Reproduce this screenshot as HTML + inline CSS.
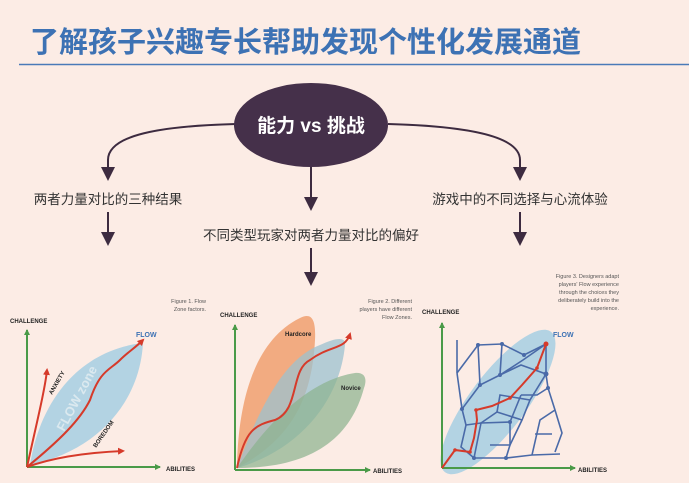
<!DOCTYPE html>
<html><head><meta charset="utf-8"><style>
body{margin:0;width:689px;height:483px;background:#fcece5;overflow:hidden;font-family:"Liberation Sans","Noto Sans CJK SC",sans-serif;}
svg{position:absolute;left:0;top:0}
</style></head><body>
<svg width="689" height="483" viewBox="0 0 689 483" xmlns="http://www.w3.org/2000/svg">
<defs>
<marker id="g" markerWidth="6" markerHeight="6" refX="5" refY="3" orient="auto" markerUnits="userSpaceOnUse"><path d="M0,0L6,3L0,6z" fill="#4a9a48"/></marker>
<marker id="r" markerWidth="7" markerHeight="7" refX="5" refY="3.5" orient="auto" markerUnits="userSpaceOnUse"><path d="M0,0L7,3.5L0,7z" fill="#d63a2a"/></marker>
</defs>
<text x="30" y="52" font-size="29" font-weight="bold" fill="#3d72b4" font-family="Noto Sans CJK SC,sans-serif">了解孩子兴趣专长帮助发现个性化发展通道</text>
<line x1="19" y1="64.5" x2="689" y2="64.5" stroke="#4a7ab8" stroke-width="1.5"/>
<g stroke="#3d2b40" stroke-width="2" fill="none">
<path d="M236,124 C160,126 108,135 108,160 L108,170"/>
<path d="M388,124 C462,126 520,135 520,160 L520,170"/>
<line x1="311" y1="166" x2="311" y2="200"/>
<line x1="108" y1="212" x2="108" y2="235"/>
<line x1="520" y1="212" x2="520" y2="235"/>
<line x1="311" y1="248" x2="311" y2="275"/>
</g>
<g fill="#3d2b40">
<path d="M101,167h14l-7,14z"/><path d="M513,167h14l-7,14z"/><path d="M304,197h14l-7,14z"/>
<path d="M101,232h14l-7,14z"/><path d="M513,232h14l-7,14z"/><path d="M304,272h14l-7,14z"/>
</g>
<ellipse cx="311" cy="125" rx="77" ry="42" fill="#45304a"/>
<text x="311" y="132" font-size="19" fill="#fff" text-anchor="middle" font-weight="bold">能力 vs 挑战</text>
<g font-size="13.5" fill="#333" text-anchor="middle">
<text x="108" y="204">两者力量对比的三种结果</text>
<text x="520" y="204">游戏中的不同选择与心流体验</text>
<text x="311" y="240">不同类型玩家对两者力量对比的偏好</text>
</g>
<!-- chart 1 -->
<g>
<path d="M30,465 C40,400 80,350 143,343 C140,400 100,450 30,465z" fill="#b3d3e3"/>
<text x="64" y="432" font-size="13" font-weight="bold" fill="#dbe9ef" transform="rotate(-62 64 432)">FLOW zone</text>
<line x1="27" y1="467" x2="27" y2="330" stroke="#4a9a48" stroke-width="2" marker-end="url(#g)"/>
<line x1="27" y1="467" x2="160" y2="467" stroke="#4a9a48" stroke-width="2" marker-end="url(#g)"/>
<g stroke="#d63a2a" stroke-width="2" fill="none" marker-end="url(#r)">
<path d="M27,467 C35,430 45,390 47,370"/>
<path d="M27,467 C60,440 80,420 90,400 C100,370 110,370 120,360 C128,352 135,348 143,340"/>
<path d="M27,467 C60,455 100,452 123,451"/>
</g>
<g font-size="6" font-weight="bold" fill="#222">
<text x="10" y="323">CHALLENGE</text><text x="166" y="471">ABILITIES</text>
<text x="52" y="395" transform="rotate(-60 52 395)">ANXIETY</text>
<text x="96" y="448" transform="rotate(-55 96 448)">BOREDOM</text>
</g>
<text x="136" y="337" font-size="7" font-weight="bold" fill="#3d72b4">FLOW</text>
<text x="206" y="303" font-size="5.5" fill="#555" text-anchor="end">Figure 1. Flow</text>
<text x="206" y="311" font-size="5.5" fill="#555" text-anchor="end">Zone factors.</text>
</g>
<!-- chart 2 -->
<g>
<path d="M237,468 C238,400 255,340 300,318 C312,312 316,320 315,340 C312,400 290,440 237,468z" fill="#f0a070" opacity="0.85"/>
<path d="M237,468 C255,420 280,360 320,345 C335,338 346,336 345,345 C340,400 300,450 237,468z" fill="#9cc2cf" opacity="0.75"/>
<path d="M237,468 C270,420 310,380 355,373 C366,372 367,380 364,388 C350,440 310,468 237,468z" fill="#8ab28d" opacity="0.7"/>
<line x1="235" y1="470" x2="235" y2="325" stroke="#4a9a48" stroke-width="2" marker-end="url(#g)"/>
<line x1="235" y1="470" x2="370" y2="470" stroke="#4a9a48" stroke-width="2" marker-end="url(#g)"/>
<path d="M237,468 C245,430 255,425 275,420 C300,410 290,370 310,360 C330,345 345,350 350,334" stroke="#d63a2a" stroke-width="2" fill="none" marker-end="url(#r)"/>
<g font-size="6" font-weight="bold" fill="#222">
<text x="220" y="317">CHALLENGE</text><text x="373" y="473">ABILITIES</text>
<text x="285" y="336">Hardcore</text><text x="341" y="390">Novice</text>
</g>
<text x="412" y="303" font-size="5.5" fill="#555" text-anchor="end">Figure 2. Different</text>
<text x="412" y="311" font-size="5.5" fill="#555" text-anchor="end">players have different</text>
<text x="412" y="319" font-size="5.5" fill="#555" text-anchor="end">Flow Zones.</text>
</g>
<!-- chart 3 -->
<g>
<ellipse cx="498" cy="402" rx="88" ry="28" transform="rotate(-53 498 402)" fill="#b3d3e3"/>
<line x1="442" y1="468" x2="442" y2="323" stroke="#4a9a48" stroke-width="2" marker-end="url(#g)"/>
<line x1="442" y1="468" x2="575" y2="468" stroke="#4a9a48" stroke-width="2" marker-end="url(#g)"/>
<g stroke="#4a6aa8" stroke-width="1.6" fill="none">
<path d="M457,373 L457,340"/>
<path d="M457,373 L478,345 L502,344 L524,355 L546,344"/>
<path d="M478,345 L480,385 L462,409 L466,425 L461,447 L474,458 L506,458 L532,455 L560,454"/>
<path d="M502,344 L500,375 L523,360 L546,344"/>
<path d="M457,373 L462,409"/>
<path d="M480,385 L500,375"/>
<path d="M466,425 L481,423 L510,422 L510,445 L506,458"/>
<path d="M500,375 L521,365 L546,374 L548,388 L555,410 L562,433 L555,452"/>
<path d="M546,344 L546,374 L530,400 L522,420 L510,445"/>
<path d="M521,395 L537,395 L548,388"/>
<path d="M510,422 L521,395"/>
<path d="M481,423 L497,412 L522,420"/>
<path d="M497,412 L500,395 L530,400"/>
<path d="M474,458 L481,423"/>
<path d="M490,445 L510,445"/>
<path d="M532,455 L540,420 L555,410"/>
<path d="M535,434 L552,434"/>
</g>
<g fill="#4a6aa8"><circle cx="478" cy="345" r="2"/><circle cx="502" cy="344" r="2"/><circle cx="524" cy="355" r="2"/><circle cx="480" cy="385" r="2"/><circle cx="500" cy="375" r="2"/><circle cx="462" cy="409" r="2"/><circle cx="510" cy="422" r="2"/><circle cx="546" cy="374" r="2.5"/><circle cx="548" cy="388" r="2"/><circle cx="474" cy="458" r="2"/><circle cx="506" cy="458" r="2"/></g>
<path d="M442,468 L455,450 L470,452 L474,438 L477,420 L476,410 L492,406 L510,398 L522,385 L537,368 L546,344" stroke="#d63a2a" stroke-width="2" fill="none"/>
<g fill="#d63a2a"><circle cx="546" cy="344" r="2.5"/><circle cx="455" cy="450" r="1.8"/><circle cx="470" cy="452" r="1.8"/><circle cx="476" cy="410" r="1.8"/><circle cx="510" cy="398" r="1.8"/><circle cx="537" cy="368" r="1.8"/></g>
<g font-size="6" font-weight="bold" fill="#222">
<text x="422" y="314">CHALLENGE</text><text x="578" y="472">ABILITIES</text>
</g>
<text x="553" y="337" font-size="7" font-weight="bold" fill="#3d72b4">FLOW</text>
<g font-size="5.5" fill="#555" text-anchor="end">
<text x="619" y="278">Figure 3. Designers adapt</text>
<text x="619" y="286">players' Flow experience</text>
<text x="619" y="294">through the choices they</text>
<text x="619" y="302">deliberately build into the</text>
<text x="619" y="310">experience.</text>
</g>
</g>
</svg>
</body></html>
